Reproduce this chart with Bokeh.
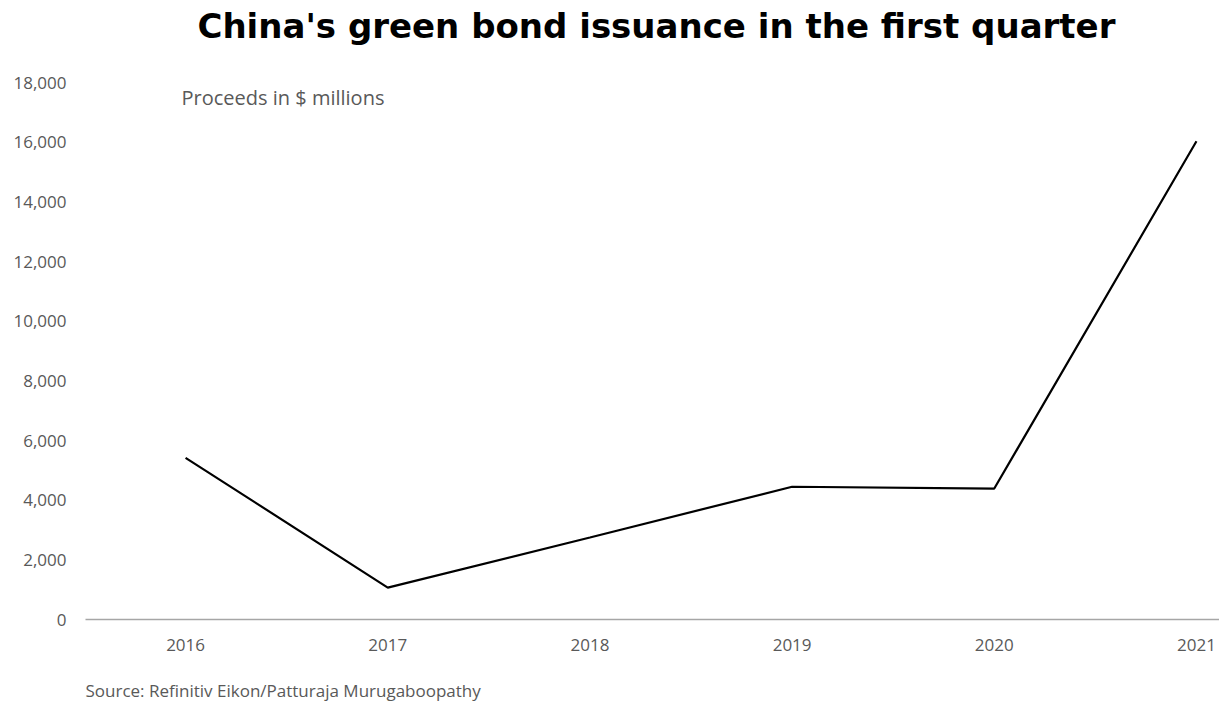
from bokeh.plotting import figure
from bokeh.models import Range1d, FixedTicker, Label, Title
from bokeh.embed import file_html
from bokeh.resources import INLINE

years = ["2016", "2017", "2018", "2019", "2020", "2021"]
proceeds = [5420, 1070, 2750, 4450, 4390, 16030]
y_ticks = [0, 2000, 4000, 6000, 8000, 10000, 12000, 14000, 16000, 18000]

xs = list(range(len(years)))

# frame spans from the canvas top to the x axis; 18,000 sits 82px from the top
p = figure(width=1219, height=708, output_backend="svg", toolbar_location=None,
           x_range=Range1d(-0.495, 5.114), y_range=Range1d(0, 20749),
           min_border_left=85, min_border_right=0, min_border_top=0, min_border_bottom=89)

p.line(xs, proceeds, line_color="#000000", line_width=2.2)

p.xaxis.ticker = FixedTicker(ticks=xs)
p.xaxis.major_label_overrides = {i: y for i, y in enumerate(years)}
p.yaxis.ticker = FixedTicker(ticks=y_ticks)
p.yaxis.major_label_overrides = {v: f"{v:,}" for v in y_ticks}

for ax in (p.xaxis, p.yaxis):
    ax.major_label_text_font = "Open Sans"
    ax.major_label_text_font_size = "17px"
    ax.major_label_text_color = "#595959"
    ax.major_tick_line_color = None
    ax.minor_tick_line_color = None
    ax.major_tick_out = 0
    ax.major_tick_in = 0

p.xaxis.axis_line_color = "#a6a6a6"
p.xaxis.axis_line_width = 1.5
p.xaxis.major_label_standoff = 19
p.yaxis.axis_line_color = None
p.yaxis.major_label_standoff = 19

p.xgrid.grid_line_color = None
p.ygrid.grid_line_color = None
p.outline_line_color = None
p.background_fill_color = "#ffffff"
p.border_fill_color = "#ffffff"

p.add_layout(Title(text="\nSource: Refinitiv Eikon/Patturaja Murugaboopathy", align="left",
                   text_font="Open Sans", text_font_size="17px", text_font_style="normal",
                   text_color="#595959", standoff=0, vertical_align="bottom"), "below")

p.add_layout(Label(x=2.329, y=19890, text="China's green bond issuance in the first quarter",
                   text_font="DejaVu Sans", text_font_size="34px", text_font_style="bold",
                   text_color="#000000", text_align="center", text_baseline="alphabetic"))

p.add_layout(Label(x=-0.02, y=17507, text="Proceeds in $ millions", text_font="Open Sans",
                   text_font_size="20px", text_color="#595959", text_baseline="middle",
                   text_align="left"))

open("out.html", "w").write(file_html(p, INLINE))
